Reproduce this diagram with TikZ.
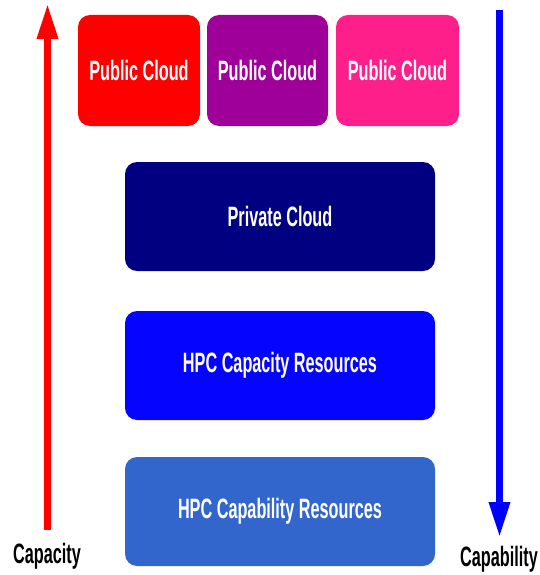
\documentclass[tikz,border=0pt]{standalone}
\usepackage{fontspec}
\usepackage{xcolor}
\usetikzlibrary{arrows.meta}
\newfontfamily\narrowsans[FakeStretch=0.58]{Liberation Sans}
\definecolor{pubRed}{HTML}{FF0000}
\definecolor{pubPurple}{HTML}{A0009A}
\definecolor{pubPink}{HTML}{FF1F8A}
\definecolor{privNavy}{HTML}{000080}
\definecolor{hpcBlue}{HTML}{0505FF}
\definecolor{hpcSteel}{HTML}{3366CC}
\tikzset{
    cloudbox/.style={rectangle, rounded corners=12pt, text=white,
        font=\narrowsans\bfseries\fontsize{28}{30}\selectfont},
    axislabel/.style={text=black, font=\narrowsans\bfseries\fontsize{28}{30}\selectfont},
    axisarrow/.style={line width=6.5pt, -{Triangle[width=20pt,length=35pt]}}
}
\begin{document}
\begin{tikzpicture}[x=1pt, y=-1pt]
    \useasboundingbox (0,0) rectangle (539,575);

    \def\topH{111}; % height of the public cloud boxes
    \def\rowH{109}; % height of the wide boxes
    \def\rowW{310};

    %%% public clouds %%%
    \node[cloudbox, fill=pubRed, minimum width=122pt, minimum height=\topH pt] (pubA) at (139,70.5) {Public Cloud};
    \node[cloudbox, fill=pubPurple, minimum width=121pt, minimum height=\topH pt] (pubB) at (267.5,70.5) {Public Cloud};
    \node[cloudbox, fill=pubPink, minimum width=123pt, minimum height=\topH pt] (pubC) at (397.5,70.5) {Public Cloud};

    %%% lower layers %%%
    \node[cloudbox, fill=privNavy, minimum width=\rowW pt, minimum height=\rowH pt] (private) at (280,216.5) {Private Cloud};
    \node[cloudbox, fill=hpcBlue, minimum width=\rowW pt, minimum height=\rowH pt] (capacity) at (280,365.5) {HPC Capacity Resources};
    \node[cloudbox, fill=hpcSteel, minimum width=\rowW pt, minimum height=\rowH pt] (capability) at (280,511.5) {HPC Capability Resources};

    %%% axes %%%
    \node[axislabel] (capLabel) at (47,556) {Capacity};
    \node[axislabel] (cabLabel) at (499,559) {Capability};

    \coordinate (redFoot) at (47.5,530);
    \coordinate (redTip) at (47.5,4);
    \coordinate (blueFoot) at (499.5,10);
    \coordinate (blueTip) at (499.5,537);

    \draw[axisarrow, pubRed] (redFoot) -- (redTip);
    \draw[axisarrow, blue] (blueFoot) -- (blueTip);
\end{tikzpicture}
\end{document}
